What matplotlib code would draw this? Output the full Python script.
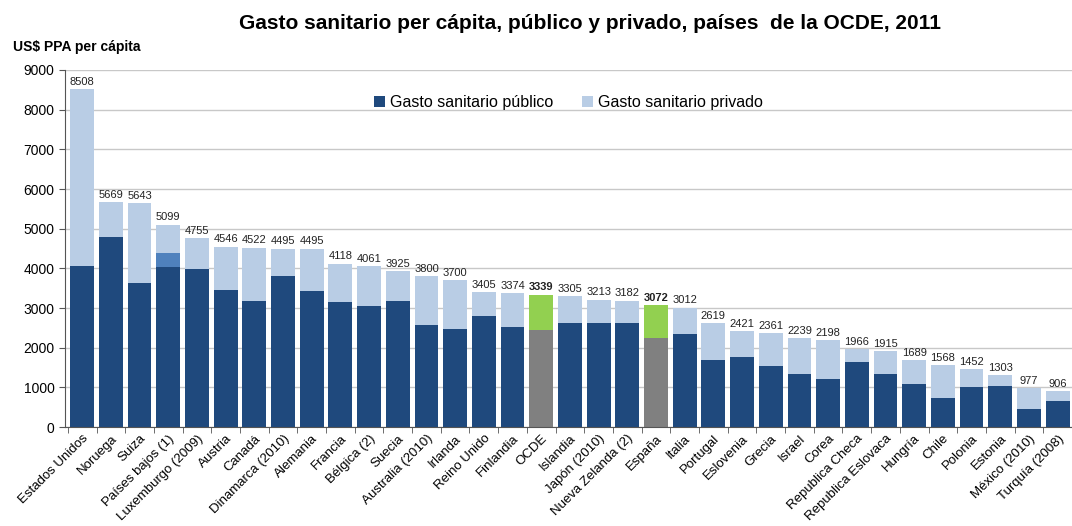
import numpy as np
import matplotlib.pyplot as plt

plt.rcParams['font.family'] = ['Liberation Sans', 'DejaVu Sans']

# Gasto sanitario per cápita (US$ PPA), OCDE 2011
paises = ['Estados Unidos', 'Noruega', 'Suiza', 'Países bajos (1)', 'Luxemburgo (2009)',
          'Austria', 'Canadá', 'Dinamarca (2010)', 'Alemania', 'Francia', 'Bélgica (2)',
          'Suecia', 'Australia (2010)', 'Irlanda', 'Reino Unido', 'Finlandia', 'OCDE',
          'Islandia', 'Japón (2010)', 'Nueva Zelanda (2)', 'España', 'Italia', 'Portugal',
          'Eslovenia', 'Grecia', 'Israel', 'Corea', 'Republica Checa', 'Republica Eslovaca',
          'Hungría', 'Chile', 'Polonia', 'Estonia', 'México (2010)', 'Turquía (2008)']
total = [8508, 5669, 5643, 5099, 4755, 4546, 4522, 4495, 4495, 4118, 4061, 3925, 3800,
         3700, 3405, 3374, 3339, 3305, 3213, 3182, 3072, 3012, 2619, 2421, 2361, 2239,
         2198, 1966, 1915, 1689, 1568, 1452, 1303, 977, 906]
publico = [4060, 4800, 3640, 4025, 3975, 3455, 3185, 3815, 3420, 3150, 3060, 3185, 2580,
           2470, 2800, 2515, 2445, 2615, 2615, 2615, 2245, 2335, 1690, 1770, 1540, 1335,
           1200, 1640, 1335, 1085, 725, 1000, 1035, 460, 665]
# Países Bajos: parte intermedia sin desglosar
pb_otro = 370

azul = '#1F497D'
azul_claro = '#B9CDE5'
azul_medio = '#4F81BD'
gris = '#808080'
verde = '#92D050'

x = np.arange(len(paises))
pub = np.array(publico, dtype=float)
tot = np.array(total, dtype=float)
medio = np.zeros(len(paises))
medio[paises.index('Países bajos (1)')] = pb_otro
priv = tot - pub - medio

col_pub = [azul] * len(paises)
col_priv = [azul_claro] * len(paises)
for p in ['OCDE', 'España']:
    i = paises.index(p)
    col_pub[i] = gris
    col_priv[i] = verde

fig = plt.figure(figsize=(10.72, 5.26), dpi=100)
ax = fig.add_axes([0.0606, 0.188, 0.9394, 0.679])

w = 0.83
ax.bar(x, pub, w, color=col_pub, zorder=2, label='Gasto sanitario público')
ax.bar(x, medio, w, bottom=pub, color=azul_medio, zorder=2)
ax.bar(x, priv, w, bottom=pub + medio, color=col_priv, zorder=2,
       label='Gasto sanitario privado')

for i, v in enumerate(total):
    bold = paises[i] in ('OCDE', 'España')
    ax.text(x[i], v + 60, str(v), ha='center', va='bottom', fontsize=8,
            fontweight='bold' if bold else 'normal', color='#222222')

ax.set_ylim(0, 9000)
ax.set_xlim(-0.6, 34.1)
ax.set_yticks(np.arange(0, 9001, 1000))
ax.yaxis.grid(True, color='#C8C8C8', linewidth=1, zorder=0)
ax.tick_params(axis='y', labelsize=10, length=4, color='#555555')

ax.set_xticks(x)
ax.set_xticklabels(paises, rotation=45, ha='right', rotation_mode='anchor', fontsize=9.5)
ax.tick_params(axis='x', length=0, pad=4)
ax.set_xticks(np.arange(-0.5, len(paises), 1), minor=True)
ax.tick_params(axis='x', which='minor', length=4, color='#555555')

for s in ['top', 'right']:
    ax.spines[s].set_visible(False)
ax.spines['left'].set_color('#555555')
ax.spines['bottom'].set_color('#555555')

leg = ax.legend(loc='upper center', bbox_to_anchor=(0.5, 0.97), ncol=2, frameon=False,
                fontsize=11.5, handlelength=0.7, handleheight=0.7, handletextpad=0.3,
                columnspacing=1.8)

fig.text(0.55, 0.955, 'Gasto sanitario per cápita, público y privado, países  de la OCDE, 2011',
         ha='center', va='center', fontsize=15, fontweight='bold')
fig.text(0.012, 0.91, 'US$ PPA per cápita', ha='left', va='center', fontsize=10,
         fontweight='bold')

fig.savefig('out.png', dpi=100)
